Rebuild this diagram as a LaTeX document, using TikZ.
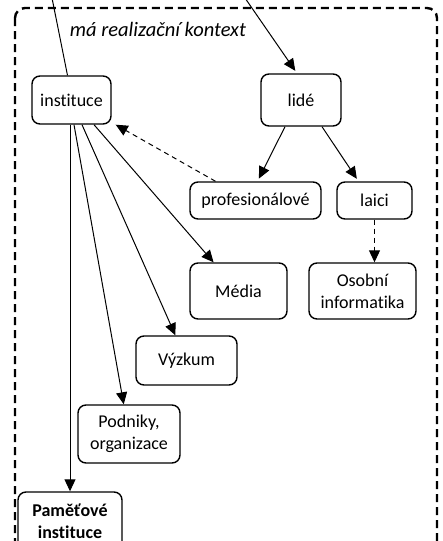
\documentclass[tikz,border=0pt]{standalone}
\usepackage{fontspec}
\setmainfont{Carlito}[Ligatures={NoCommon}]
\usetikzlibrary{arrows.meta}
\begin{document}
\begin{tikzpicture}[x=1pt,y=-1pt,
  box/.style={draw,rounded corners=8pt,line width=1.4pt,align=center,
    font=\fontsize{18}{22}\selectfont,inner sep=2pt},
  link/.style={line width=1pt,-{Triangle[length=12pt,width=11pt]}},
  dlink/.style={link,dash pattern=on 5pt off 4pt},
  frame/.style={draw,line width=2.4pt,dash pattern=on 8pt off 5pt,rounded corners=10pt}]
\useasboundingbox (0,0) rectangle (443,541);
\clip (0,0) rectangle (443,541);

% context frame
\draw[frame] (15,8) rectangle (437,580);
\node[font=\fontsize{20.5}{24}\selectfont\itshape] (ctx) at (158,29) {má realizační kontext};

% nodes
\node[box,minimum width=79pt,minimum height=48pt] (inst) at (71.5,100) {instituce};
\node[box,minimum width=80pt,minimum height=52pt] (lide) at (301,100) {lidé};
\node[box,minimum width=131pt,minimum height=37pt] (prof) at (255.5,200.5) {profesionálové};
\node[box,minimum width=75pt,minimum height=37pt] (laici) at (374.5,200.5) {laici};
\node[box,minimum width=97pt,minimum height=56pt] (media) at (238.5,291) {Média};
\node[box,minimum width=107pt,minimum height=56pt] (osobni) at (362.5,291) {Osobní\\informatika};
\node[box,minimum width=101pt,minimum height=49pt] (vyzkum) at (186.5,360.5) {Výzkum};
\node[box,minimum width=102pt,minimum height=58pt] (podniky) at (129,434) {Podniky,\\organizace};
\node[box,minimum width=104pt,minimum height=58pt,font=\fontsize{18}{22}\selectfont\bfseries] (pam) at (70,521) {Paměťové\\instituce};

% incoming connectors from outside the frame
\coordinate (inA) at (52,-2);
\coordinate (inB) at (245,-2);
\draw[line width=1pt] (inA) -- ([xshift=-4pt]inst.north);
\draw[link,shorten >=3pt] (inB) -- ([xshift=-4pt]lide.north);

% institutions
\draw[link] ([xshift=-1.5pt]inst.south) -- (pam);
\draw[link] ([xshift=2.5pt]inst.south) -- (podniky);
\draw[link] ([xshift=10.5pt]inst.south) -- (vyzkum);
\draw[link] ([xshift=22.5pt]inst.south) -- (media);

% people
\draw[link,shorten >=3pt] ([xshift=-16pt]lide.south) -- ([xshift=2pt]prof.north);
\draw[link,shorten >=3pt] ([xshift=21pt]lide.south) -- ([xshift=-16pt]laici.north);
\draw[dlink] ([xshift=-40pt]prof.north) -- ([xshift=4pt]inst.south east);
\draw[dlink] (laici.south) -- (laici.south |- osobni.north);
\end{tikzpicture}
\end{document}
